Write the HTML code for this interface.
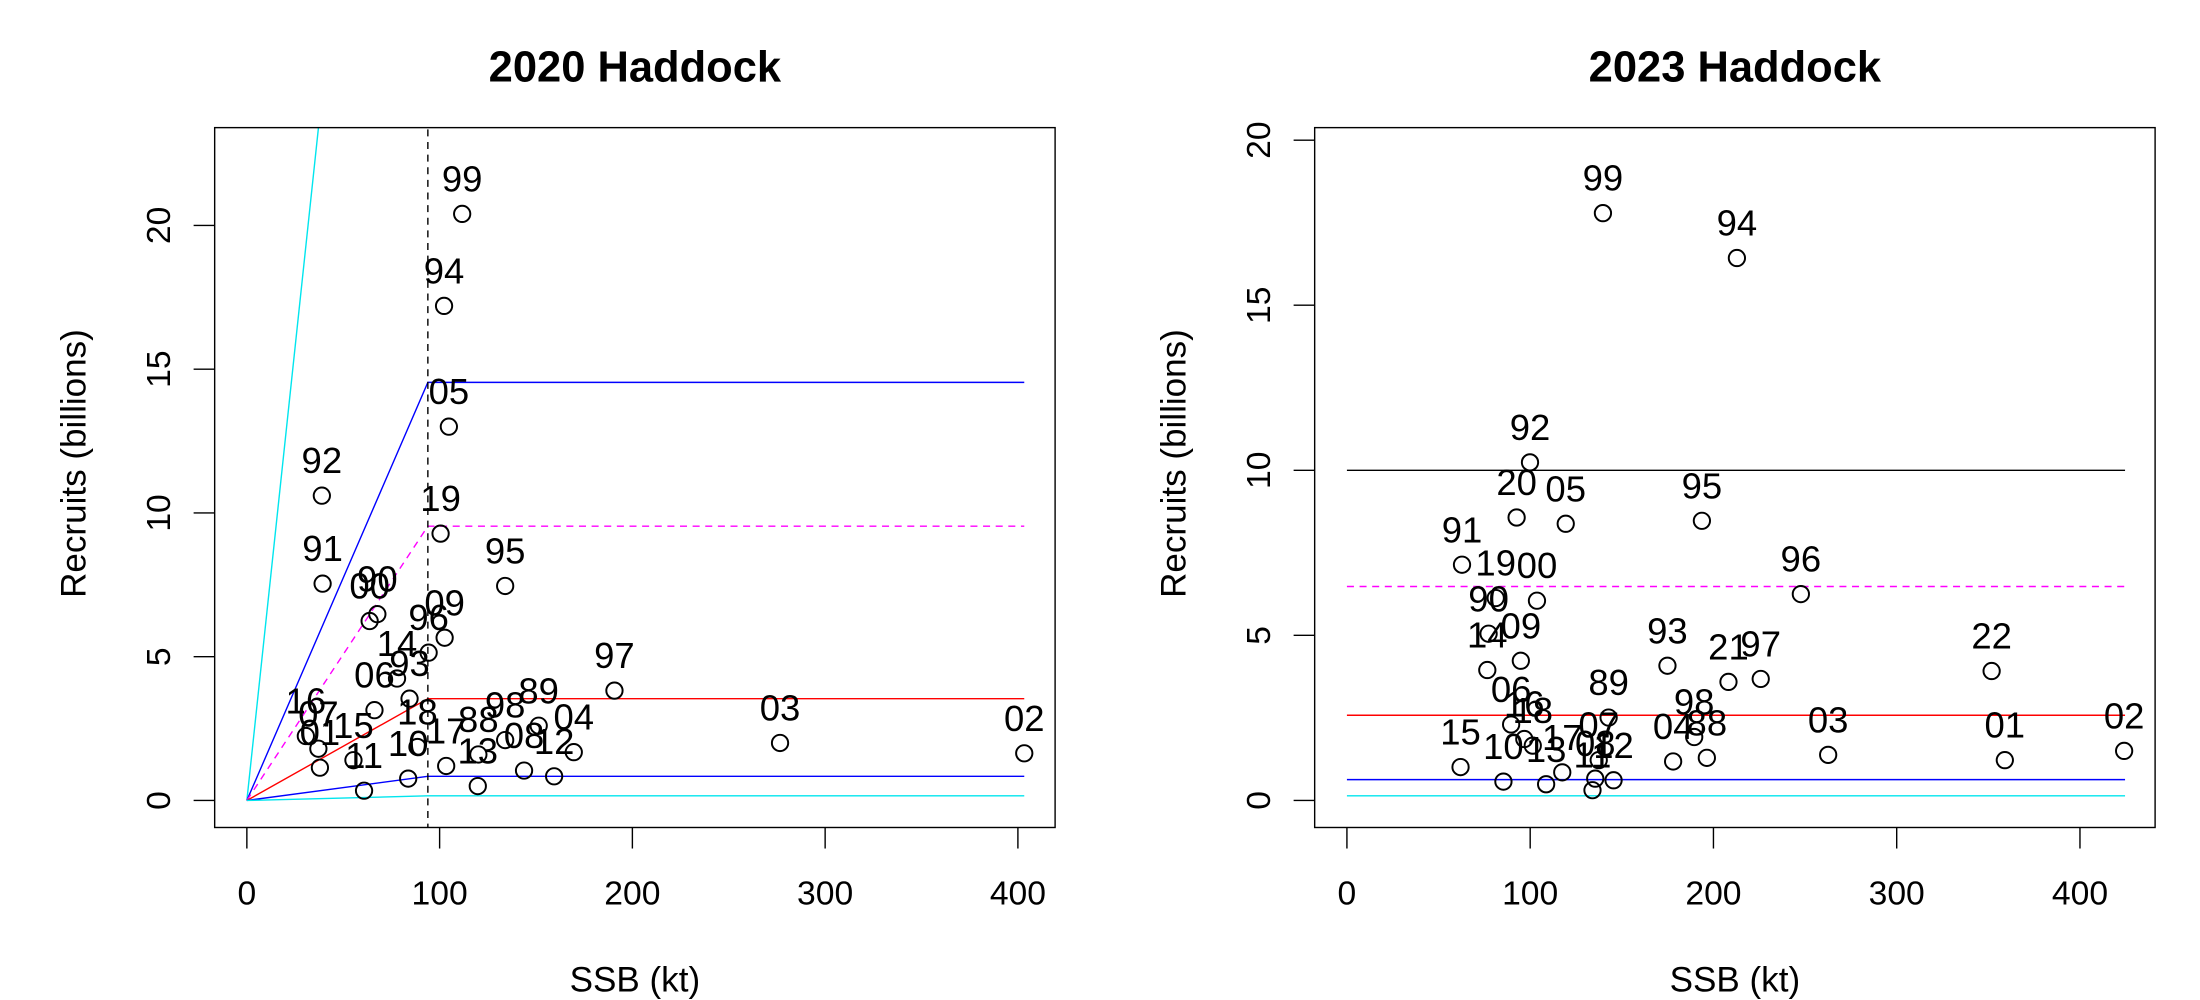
<!DOCTYPE html>
<html>
<head>
<meta charset="utf-8">
<style>
html,body{margin:0;padding:0;background:#fff;}
svg{display:block;}
text{font-family:"Liberation Sans",Arial,sans-serif;fill:#000;}
</style>
</head>
<body>
<svg id="chart" width="2200" height="1000" viewBox="0 0 1568 713" preserveAspectRatio="none" xmlns="http://www.w3.org/2000/svg">
</svg>
<script>
// ---- 2020 Haddock data ----
const years2020 = ["99","94","05","92","19","91","95","90","00","09","96","14","93","06","16","07","01","15","11","18","10","17","88","13","98","08","89","12","04","97","03","02"];
const ssb2020 = [111.7,102.3,104.8,38.9,100.5,39.3,134,67.7,63.7,102.6,94.3,77.9,84.4,66.2,30.6,37.1,37.9,55.3,60.8,88.5,83.7,103.4,120.1,119.8,134,143.8,151.4,159.4,169.6,190.7,276.6,403.3];
const rec2020 = [20.4,17.2,13.0,10.6,9.28,7.54,7.46,6.48,6.24,5.66,5.14,4.24,3.54,3.14,2.24,1.80,1.14,1.40,0.34,1.86,0.76,1.20,1.60,0.50,2.10,1.04,2.60,0.84,1.68,3.82,2.0,1.64];
const breakpoint2020 = 93.9;
const plateaus2020 = [14.54, 9.54, 3.54, 0.84, 0.16];
const plateauColors2020 = ["#0000ff","#ff00ff","#ff0000","#0000ff","#00e5ee"];
const steepSlope2020 = 0.63;

// ---- 2023 Haddock data ----
const years2023 = ["99","94","92","20","05","95","91","19","00","96","90","14","09","93","21","97","22","89","06","16","18","15","10","13","17","07","08","11","12","04","98","88","03","01","02"];
const ssb2023 = [139.7,212.8,99.9,92.6,119.4,193.7,62.8,81.2,103.7,247.7,77.3,76.6,94.9,174.9,208.2,225.8,351.8,142.8,89.6,96.8,101.4,62.0,85.4,108.7,117.5,137.4,135.5,134,145.5,178,189.5,196.4,262.6,359,424.1];
const rec2023 = [17.79,16.43,10.24,8.57,8.38,8.47,7.14,6.13,6.05,6.25,5.05,3.95,4.23,4.08,3.59,3.68,3.92,2.51,2.30,1.86,1.66,1.01,0.57,0.49,0.85,1.22,0.66,0.31,0.61,1.18,1.92,1.29,1.38,1.22,1.5];
const refLevels2023 = [10.0, 6.48, 2.58, 0.63, 0.14];
const refColors2023 = ["#000000","#ff00ff","#ff0000","#0000ff","#00e5ee"];

const xTicks = [0,100,200,300,400];
const yTicks = [0,5,10,15,20];

const NS = "http://www.w3.org/2000/svg";
const svg = document.getElementById("chart");
function mk(tag, attrs, parent){
  const e = document.createElementNS(NS, tag);
  for (const k in attrs) e.setAttribute(k, attrs[k]);
  (parent||svg).appendChild(e);
  return e;
}

function panel(cfg){
  const g = mk("g", {});
  
  
  const L=cfg.box[0], R=cfg.box[1], T=cfg.box[2], B=cfg.box[3];
  const sx = v => L + (v - cfg.xlim[0])/(cfg.xlim[1]-cfg.xlim[0])*(R-L);
  const sy = v => B - (v - cfg.ylim[0])/(cfg.ylim[1]-cfg.ylim[0])*(B-T);
  const clipId = cfg.name + "-clip";
  const defs = mk("defs", {}, g);
  const cp = mk("clipPath", {id: clipId}, defs);
  mk("rect", {x:L, y:T, width:R-L, height:B-T}, cp);
  const plot = mk("g", {"clip-path":"url(#"+clipId+")"}, g);

  const t = mk("text", {x:(L+R)/2, y:58, "text-anchor":"middle", "font-size":"31", "font-weight":"bold"}, g);
  t.textContent = cfg.title;
  
  

  const box = mk("rect", {x:L, y:T, width:R-L, height:B-T, fill:"none", stroke:"#000", "stroke-width":"1"}, g);
  
  

  xTicks.forEach(v=>{
    mk("line", {x1:sx(v), x2:sx(v), y1:B, y2:B+15, stroke:"#000", "stroke-width":"1"}, g);
    const tl = mk("text", {x:sx(v), y:645, "text-anchor":"middle", "font-size":"24"}, g);
    tl.textContent = v;
    
    
  });
  yTicks.forEach(v=>{
    if (v > cfg.ylim[1]) return;
    mk("line", {x1:L-15, x2:L, y1:sy(v), y2:sy(v), stroke:"#000", "stroke-width":"1"}, g);
    const yx = L - 40;
    const tl = mk("text", {x:yx, y:sy(v), "text-anchor":"middle", "font-size":"24", transform:"rotate(-90 "+yx+" "+sy(v)+")", dy:"8"}, g);
    tl.textContent = v;
    
    
  });
  const xl = mk("text", {x:(L+R)/2, y:707, "text-anchor":"middle", "font-size":"25"}, g);
  xl.textContent = "SSB (kt)";
  
  
  const ylx = L - 100, yly = (T+B)/2 - 10;
  const yl = mk("text", {x:ylx, y:yly, "text-anchor":"middle", "font-size":"25", transform:"rotate(-90 "+ylx+" "+yly+")", dy:"8"}, g);
  yl.textContent = "Recruits (billions)";
  
  

  cfg.drawLines(plot, sx, sy);

  cfg.years.forEach((yr,i)=>{
    const c = mk("circle", {cx:sx(cfg.ssb[i]), cy:sy(cfg.rec[i]), r:5.8, fill:"none", stroke:"#000", "stroke-width":"1.4"}, g);
    
    
    const lb = mk("text", {x:sx(cfg.ssb[i]), y:sy(cfg.rec[i]) - 16, "text-anchor":"middle", "font-size":"26"}, g);
    lb.textContent = yr;
    
    
  });
}

panel({
  name: "panel-2020",
  title: "2020 Haddock",
  box: [153, 752, 91, 590],
  xlim: [-16.7, 419.3],
  ylim: [-0.94, 23.4],
  years: years2020, ssb: ssb2020, rec: rec2020,
  drawLines: function(p, sx, sy){
    const xmax = 403.3;
    const s = mk("polyline", {points: sx(0)+","+sy(0)+" "+sx(breakpoint2020)+","+sy(steepSlope2020*breakpoint2020), fill:"none", stroke:"#00e5ee", "stroke-width":"1"}, p);
    
    
    plateaus2020.forEach((h,i)=>{
      const pl = mk("polyline", {points: sx(0)+","+sy(0)+" "+sx(breakpoint2020)+","+sy(h)+" "+sx(xmax)+","+sy(h), fill:"none", stroke:plateauColors2020[i], "stroke-width":"1", "stroke-dasharray": i===1 ? "5,4" : "none"}, p);
      
      
    });
    const v = mk("line", {x1:sx(breakpoint2020), x2:sx(breakpoint2020), y1:sy(-5), y2:sy(30), stroke:"#000", "stroke-width":"1", "stroke-dasharray":"5,4"}, p);
    
    
  }
});

panel({
  name: "panel-2023",
  title: "2023 Haddock",
  box: [937, 1536, 91, 590],
  xlim: [-17.6, 441],
  ylim: [-0.82, 20.38],
  years: years2023, ssb: ssb2023, rec: rec2023,
  drawLines: function(p, sx, sy){
    refLevels2023.forEach((h,i)=>{
      const l = mk("line", {x1:sx(0), x2:sx(424.6), y1:sy(h), y2:sy(h), stroke:refColors2023[i], "stroke-width":"1", "stroke-dasharray": i===1 ? "5,4" : "none"}, p);
      
      
    });
  }
});
</script>
</body>
</html>
